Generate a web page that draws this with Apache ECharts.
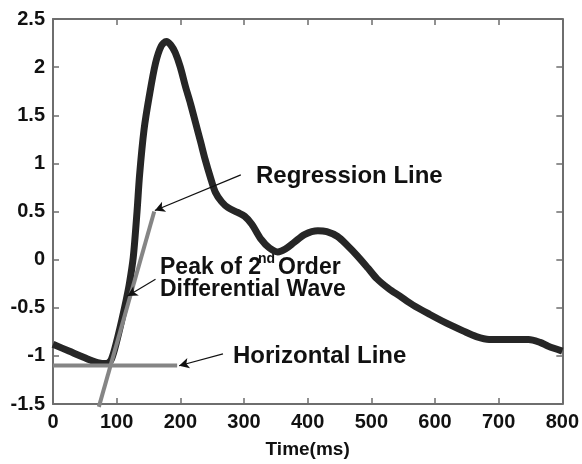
<!DOCTYPE html>
<html>
<head>
    <meta charset="utf-8">
    <script src="https://cdn.jsdelivr.net/npm/echarts@6/dist/echarts.min.js"></script>
    <style>
        html, body { margin: 0; padding: 0; background: #fff; }
        #chart { width: 582px; height: 464px; }
    </style>
</head>
<body>
    <div id="chart"></div>
    <script>
        // pulse wave
        let timeMs = [0, 25, 50, 70, 85, 92, 100, 108, 115, 120, 126, 132, 136, 143, 151, 161, 170, 178, 185, 192, 200, 208, 216, 224, 232, 239, 247, 255, 265, 275, 290, 301, 312, 327, 340, 353, 365, 379, 395, 416, 430, 447, 462, 478, 495, 509, 527, 545, 565, 592, 618, 644, 665, 685, 715, 747, 765, 778, 800];
        let signal = [-0.88, -0.95, -1.02, -1.07, -1.08, -1.03, -0.85, -0.63, -0.42, -0.25, 0.02, 0.50, 0.88, 1.35, 1.69, 2.04, 2.22, 2.265, 2.23, 2.15, 2.0, 1.80, 1.62, 1.42, 1.22, 1.04, 0.86, 0.70, 0.60, 0.54, 0.49, 0.45, 0.37, 0.21, 0.12, 0.08, 0.11, 0.18, 0.26, 0.30, 0.29, 0.24, 0.15, 0.04, -0.09, -0.20, -0.30, -0.38, -0.47, -0.57, -0.66, -0.74, -0.80, -0.83, -0.83, -0.83, -0.86, -0.90, -0.95];

        let regressionX = [72, 159];
        let regressionY = [-1.53, 0.50];
        let horizontalX = [0, 195];
        let horizontalY = [-1.10, -1.10];

        // arrows: [from, to] in data units
        let arrows = [
            [[295, 0.88], [160, 0.51]],
            [[161, -0.205], [117, -0.378]],
            [[267, -0.98], [198, -1.103]]
        ];

        let font = 'Liberation Sans, Arial, sans-serif';

        var chart = echarts.init(document.getElementById('chart'), null, { renderer: 'canvas' });

        function pairs(xs, ys) {
            return xs.map((x, i) => [x, ys[i]]);
        }

        var frameColor = '#6e6e6e';
        var baseAxis = {
            type: 'value',
            splitLine: { show: false },
            axisLine: { show: true, onZero: false, lineStyle: { color: frameColor, width: 2 } },
            axisTick: { show: true, inside: true, length: 6, lineStyle: { color: frameColor, width: 1.5 } }
        };

        var option = {
            backgroundColor: '#fff',
            animation: false,
            grid: { left: 53, top: 19, right: 15, bottom: 59 },
            xAxis: [
                Object.assign({}, baseAxis, {
                    position: 'bottom',
                    min: 0, max: 800, interval: 100,
                    name: 'Time(ms)',
                    nameLocation: 'middle',
                    nameGap: 36,
                    nameTextStyle: { fontFamily: font, fontSize: 19, fontWeight: 'bold', color: '#111' },
                    axisLabel: { margin: 8, fontFamily: font, fontSize: 20, fontWeight: 'bold', color: '#111' }
                }),
                Object.assign({}, baseAxis, {
                    position: 'top',
                    min: 0, max: 800, interval: 100,
                    axisLabel: { show: false }
                })
            ],
            yAxis: [
                Object.assign({}, baseAxis, {
                    position: 'left',
                    min: -1.5, max: 2.5, interval: 0.5,
                    axisLabel: { margin: 8, fontFamily: font, fontSize: 20, fontWeight: 'bold', color: '#111' }
                }),
                Object.assign({}, baseAxis, {
                    position: 'right',
                    min: -1.5, max: 2.5, interval: 0.5,
                    axisLabel: { show: false }
                })
            ],
            series: [
                {
                    type: 'line',
                    data: pairs(timeMs, signal),
                    showSymbol: false,
                    symbol: 'none',
                    smooth: 0.3,
                    lineStyle: { color: '#262626', width: 7 },
                    z: 2,
                    markLine: {
                        silent: true,
                        symbol: ['none', 'arrow'],
                        symbolSize: [8, 10],
                        label: { show: false },
                        lineStyle: { color: '#111', width: 1.2, type: 'solid' },
                        data: arrows.map(a => [{ coord: a[0] }, { coord: a[1] }])
                    }
                },
                {
                    type: 'line',
                    data: pairs(regressionX, regressionY),
                    symbol: 'none',
                    clip: false,
                    lineStyle: { color: '#858585', width: 4 },
                    z: 3
                },
                {
                    type: 'line',
                    data: pairs(horizontalX, horizontalY),
                    symbol: 'none',
                    lineStyle: { color: '#858585', width: 4 },
                    z: 3
                }
            ],
            graphic: [
                {
                    type: 'text', x: 256, y: 176,
                    style: { text: 'Regression Line', font: 'bold 24px ' + font, fill: '#111', textVerticalAlign: 'middle' }
                },
                {
                    type: 'text', x: 160, y: 268,
                    style: { text: 'Peak of 2', font: 'bold 23px ' + font, fill: '#111', textVerticalAlign: 'middle' }
                },
                {
                    type: 'text', x: 258, y: 259,
                    style: { text: 'nd', font: 'bold 14px ' + font, fill: '#111', textVerticalAlign: 'middle' }
                },
                {
                    type: 'text', x: 278, y: 268,
                    style: { text: 'Order', font: 'bold 23px ' + font, fill: '#111', textVerticalAlign: 'middle' }
                },
                {
                    type: 'text', x: 160, y: 290,
                    style: { text: 'Differential Wave', font: 'bold 23px ' + font, fill: '#111', textVerticalAlign: 'middle' }
                },
                {
                    type: 'text', x: 233, y: 356,
                    style: { text: 'Horizontal Line', font: 'bold 24px ' + font, fill: '#111', textVerticalAlign: 'middle' }
                }
            ]
        };
        chart.setOption(option);
    </script>
</body>
</html>
